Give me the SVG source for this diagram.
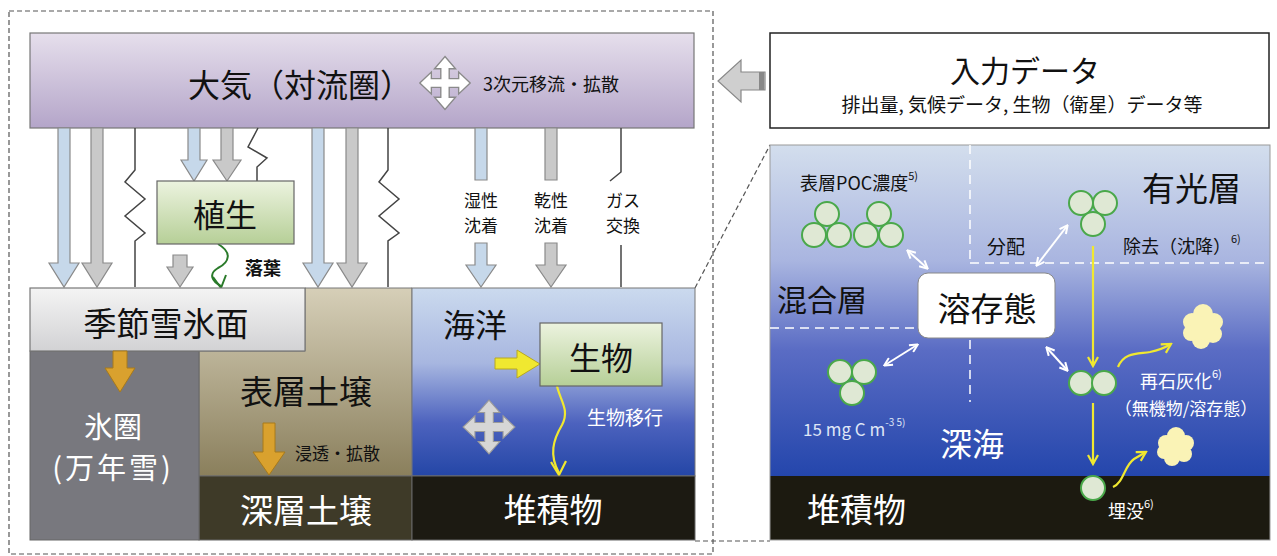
<svg xmlns="http://www.w3.org/2000/svg" width="1277" height="556" viewBox="0 0 1277 556">
<style>
text{font-family:"Noto Sans CJK JP","Noto Sans",sans-serif;dominant-baseline:central}
.blue{fill:#c6d8ea;stroke:#8a8a8a;stroke-width:1.2}
.gray{fill:#c9c9c9;stroke:#8a8a8a;stroke-width:1.2}
.orange{fill:#d9a12e;stroke:#a87a1a;stroke-width:1}
.zig{fill:none;stroke:#444;stroke-width:1.5}
.dash{fill:none;stroke:#555;stroke-width:1.2;stroke-dasharray:5 3}
.wdash{fill:none;stroke:#fff;stroke-width:1.5;stroke-dasharray:9 6}
.warr{fill:none;stroke:#fff;stroke-width:2;marker-start:url(#wh);marker-end:url(#wh)}
.yline{fill:none;stroke:#f0e830;stroke-width:2.2;marker-end:url(#yh)}
.circ{fill:#dfe8d4;stroke:#4aa84a;stroke-width:2}
.cloud{fill:#faf3b6}
.big{font-size:32px}
.w{fill:#fff}
.k{fill:#111}
</style>
<defs>
<linearGradient id="gAtm" x1="0" y1="0" x2="0" y2="1"><stop offset="0" stop-color="#e6dfec"/><stop offset="1" stop-color="#b4a5c9"/></linearGradient>
<linearGradient id="gGreen" x1="0" y1="0" x2="0" y2="1"><stop offset="0" stop-color="#ecf3df"/><stop offset="1" stop-color="#b6cf97"/></linearGradient>
<linearGradient id="gSnow" x1="0" y1="0" x2="0" y2="1"><stop offset="0" stop-color="#f4f4f4"/><stop offset="1" stop-color="#d2d2d4"/></linearGradient>
<linearGradient id="gSoil" x1="0" y1="0" x2="0" y2="1"><stop offset="0" stop-color="#d6cfb8"/><stop offset="1" stop-color="#8a7f5c"/></linearGradient>
<linearGradient id="gOcean" x1="0" y1="0" x2="0" y2="1"><stop offset="0" stop-color="#cbdaee"/><stop offset="0.4" stop-color="#a7b6e0"/><stop offset="0.72" stop-color="#4c62be"/><stop offset="1" stop-color="#2446a6"/></linearGradient>
<linearGradient id="gPanel" x1="0" y1="0" x2="0" y2="1"><stop offset="0" stop-color="#d3deed"/><stop offset="0.35" stop-color="#a9b5e0"/><stop offset="0.62" stop-color="#5a6cc4"/><stop offset="1" stop-color="#2446ac"/></linearGradient>
<marker id="wh" viewBox="0 0 10 10" refX="8" refY="5" markerWidth="10" markerHeight="10" markerUnits="userSpaceOnUse" orient="auto-start-reverse"><path d="M1,1 L9,5 L1,9" fill="none" stroke="#fff" stroke-width="2"/></marker>
<marker id="yh" viewBox="0 0 12 12" refX="10" refY="6" markerWidth="12" markerHeight="12" markerUnits="userSpaceOnUse" orient="auto"><path d="M1,1 L10,6 L1,11" fill="none" stroke="#f0e830" stroke-width="2.2"/></marker>
<path id="cross" d="M0,-24 L10,-13 L4,-13 L4,-4 L13,-4 L13,-10 L24,0 L13,10 L13,4 L4,4 L4,13 L10,13 L0,24 L-10,13 L-4,13 L-4,4 L-13,4 L-13,10 L-24,0 L-13,-10 L-13,-4 L-4,-4 L-4,-13 L-10,-13 Z"/>
</defs>

<rect width="1277" height="556" fill="#fff"/>

<!-- outer dashed frame -->
<rect class="dash" x="9" y="11" width="704" height="543"/>

<g id="atmosphere">
<rect x="30" y="33" width="664" height="95" fill="url(#gAtm)" stroke="#777" stroke-width="1.2"/>
<text x="300" y="83" class="big k" text-anchor="middle">大気（対流圏）</text>
<use href="#cross" transform="translate(445,83) scale(1.05,1.1)" fill="#fff" stroke="#8a8a8a" stroke-width="1.3"/>
<text x="483" y="83" font-size="18" class="k">3次元移流・拡散</text>
</g>

<g id="input-data">
<path d="M765,72 H741 V60 L718,81 L741,102 V90 H765 Z" fill="#cfcfcf" stroke="#888" stroke-width="1.2"/>
<rect x="759" y="72" width="5" height="18" fill="#888"/>
<rect x="770" y="33" width="499" height="95" fill="#fff" stroke="#222" stroke-width="1.5"/>
<text x="1025" y="69" font-size="30" text-anchor="middle" class="k">入力データ</text>
<text x="1022" y="103" font-size="19" text-anchor="middle" class="k">排出量, 気候データ, 生物（衛星）データ等</text>
</g>

<g id="connectors">
<path class="blue" d="M58,128 V263 H49 L64,287 L79,263 H70 V128 Z"/>
<path class="gray" d="M91,128 V263 H82 L97,287 L112,263 H103 V128 Z"/>
<path class="zig" d="M135,128 V170 L125,182 L145,199 L125,216 L145,233 L135,241 V287"/>
<path class="blue" d="M188,128 V160 H181 L194,181 L207,160 H200 V128 Z"/>
<path class="gray" d="M221,128 V160 H213 L227,181 L241,160 H233 V128 Z"/>
<path class="zig" d="M258,128 L248,147 L267,158 L257,167 V181"/>
<path class="gray" d="M173,255 V267 H167 L180,287 L193,267 H187 V255 Z"/>
<path d="M218,244 C232,252 230,262 218,268 C208,274 212,281 221,286" fill="none" stroke="#2a7a2a" stroke-width="2"/>
<path d="M213,277 L221,288 L226,275" fill="none" stroke="#2a7a2a" stroke-width="2"/>
<text x="245" y="267" font-size="18" font-weight="bold" class="k">落葉</text>
<path class="blue" d="M312,128 V263 H303 L318,287 L333,263 H324 V128 Z"/>
<path class="gray" d="M346,128 V263 H337 L352,287 L367,263 H358 V128 Z"/>
<path class="zig" d="M388,128 V170 L379,182 L399,199 L379,216 L399,233 L388,241 V287"/>
<path class="blue" d="M475,128 V180 H487 V128 Z"/>
<path class="blue" d="M475,243 V265 H466 L481,287 L496,265 H487 V243 Z"/>
<text x="481" y="199" font-size="17" text-anchor="middle" class="k">湿性</text>
<text x="481" y="224" font-size="17" text-anchor="middle" class="k">沈着</text>
<path class="gray" d="M545,128 V180 H557 V128 Z"/>
<path class="gray" d="M545,243 V265 H536 L551,287 L566,265 H557 V243 Z"/>
<text x="551" y="199" font-size="17" text-anchor="middle" class="k">乾性</text>
<text x="551" y="224" font-size="17" text-anchor="middle" class="k">沈着</text>
<path class="zig" d="M621,128 V172 L610,181"/>
<path class="zig" d="M621,245 V287"/>
<text x="623" y="199" font-size="17" text-anchor="middle" class="k">ガス</text>
<text x="623" y="224" font-size="17" text-anchor="middle" class="k">交換</text>
<!-- zoom lines -->
<path class="dash" d="M695,288 L770,145"/>
<path class="dash" d="M695,541 L770,541"/>
</g>

<g id="vegetation">
<rect x="157" y="181" width="137" height="63" fill="url(#gGreen)" stroke="#666" stroke-width="1.2"/>
<text x="225" y="213" class="big k" text-anchor="middle">植生</text>
</g>

<g id="surface-soil">
<path d="M199,351 H305 V288 H412 V476 H199 Z" fill="url(#gSoil)" stroke="#777" stroke-width="1"/>
<text x="306" y="390" font-size="33" text-anchor="middle" class="k">表層土壌</text>
<path class="orange" d="M263,423 V452 H253 L269,475 L285,452 H275 V423 Z"/>
<text x="295" y="452" font-size="17" class="k">浸透・拡散</text>
</g>

<g id="deep-soil">
<rect x="199" y="476" width="213" height="64" fill="#3e3a28" stroke="#666" stroke-width="1"/>
<text x="306" y="509" font-size="33" text-anchor="middle" class="w">深層土壌</text>
</g>

<g id="cryosphere">
<rect x="30" y="351" width="169" height="189" fill="#78787e" stroke="#666" stroke-width="1"/>
<text x="113" y="425" font-size="29" text-anchor="middle" class="w">氷圏</text>
<text x="113" y="466" font-size="29" text-anchor="middle" letter-spacing="3" class="w">(万年雪)</text>
</g>

<g id="snow-surface">
<rect x="30" y="288" width="275" height="63" fill="url(#gSnow)" stroke="#777" stroke-width="1.2"/>
<text x="166" y="322" font-size="33" text-anchor="middle" class="k">季節雪氷面</text>
<path class="orange" d="M113,351 V368 H105 L120,392 L135,368 H127 V351 Z"/>
</g>

<g id="ocean">
<rect x="412" y="288" width="283" height="188" fill="url(#gOcean)" stroke="#777" stroke-width="1"/>
<text x="443" y="323" font-size="32" class="k">海洋</text>
<path d="M495,358 H517 V350 L540,364 L517,378 V369 H495 Z" fill="#f0e830" stroke="#b8a820" stroke-width="1"/>
<use href="#cross" transform="translate(489,427) scale(1.08,1.12)" fill="#d6d6d6" stroke="#9a9a9a" stroke-width="1"/>
<path d="M557,386 C560,400 570,410 562,425 C553,440 549,455 559,473" fill="none" stroke="#f0e830" stroke-width="2.2"/>
<path d="M551,462 L559,475 L566,461" fill="none" stroke="#f0e830" stroke-width="2.2"/>
<text x="587" y="416" font-size="19" class="w">生物移行</text>
</g>

<g id="organism">
<rect x="540" y="323" width="122" height="63" fill="url(#gGreen)" stroke="#666" stroke-width="1.2"/>
<text x="601" y="356" class="big k" text-anchor="middle">生物</text>
</g>

<g id="ocean-sediment">
<rect x="412" y="476" width="283" height="64" fill="#1c1a12" stroke="#666" stroke-width="1"/>
<text x="553" y="508" font-size="33" text-anchor="middle" class="w">堆積物</text>
</g>

<g id="ocean-detail">
<rect x="770" y="145" width="500" height="331" fill="url(#gPanel)"/>
<rect x="770" y="476" width="500" height="64" fill="#1c1a10"/>
<rect x="770" y="145" width="500" height="395" fill="none" stroke="#999" stroke-width="1"/>
<path class="wdash" d="M970,145 V263 M970,263 H1270 M770,328 H917 M970,340 V402"/>

<text x="800" y="182" font-size="18" class="k">表層POC濃度<tspan font-size="11" dy="-7">5)</tspan></text>
<circle class="circ" cx="827" cy="214" r="12"/>
<circle class="circ" cx="814" cy="235" r="12"/>
<circle class="circ" cx="839" cy="235" r="12"/>
<circle class="circ" cx="879" cy="214" r="12"/>
<circle class="circ" cx="866" cy="235" r="12"/>
<circle class="circ" cx="891" cy="235" r="12"/>

<circle class="circ" cx="1081" cy="203" r="12"/>
<circle class="circ" cx="1105" cy="203" r="12"/>
<circle class="circ" cx="1093" cy="224" r="12"/>
<text x="1142" y="187" font-size="33" class="k">有光層</text>
<text x="987" y="245" font-size="19" class="k">分配</text>
<text x="1123" y="245" font-size="18" class="k">除去（沈降）<tspan font-size="11" dy="-7">6)</tspan></text>
<text x="777" y="298" font-size="30" class="k">混合層</text>

<rect x="918" y="273" width="137" height="65" rx="10" fill="#fff" stroke="#888" stroke-width="1"/>
<text x="987" y="307" font-size="33" text-anchor="middle" class="k">溶存態</text>

<path class="warr" d="M908,251 L927,268"/>
<path class="warr" d="M1037,265 L1067,226"/>
<path class="warr" d="M885,365 L917,345"/>
<path class="warr" d="M1047,348 L1067,370"/>

<circle class="circ" cx="840" cy="372" r="12"/>
<circle class="circ" cx="864" cy="372" r="12"/>
<circle class="circ" cx="852" cy="393" r="12"/>
<text x="803" y="428" font-size="17" fill="#dfe6f6" font-family="'Open Sans','Noto Sans',sans-serif">15 mg C m<tspan font-size="10" dy="-7">-3 5)</tspan></text>
<text x="940" y="442" font-size="32" class="w">深海</text>

<path class="yline" d="M1093,246 V366"/>
<circle class="circ" cx="1081" cy="383" r="12"/>
<circle class="circ" cx="1104" cy="383" r="12"/>
<path class="yline" d="M1093,403 V464"/>
<circle class="circ" cx="1093" cy="488" r="12"/>

<path class="yline" d="M1118,367 C1124,352 1138,354 1150,352 C1160,350 1166,347 1171,344"/>
<g class="cloud">
<circle cx="1192" cy="322" r="9"/><circle cx="1203" cy="314" r="10"/><circle cx="1214" cy="322" r="9"/>
<circle cx="1213" cy="334" r="9"/><circle cx="1201" cy="340" r="9"/><circle cx="1191" cy="333" r="8"/>
<circle cx="1203" cy="328" r="12"/>
</g>
<text x="1140" y="380" font-size="18" class="w">再石灰化<tspan font-size="11" dy="-7">6)</tspan></text>
<text x="1186" y="407" font-size="17" text-anchor="middle" class="w">（無機物/溶存態）</text>

<path class="yline" d="M1113,487 C1124,482 1124,466 1134,459 L1146,452"/>
<g class="cloud">
<circle cx="1166" cy="443" r="8"/><circle cx="1176" cy="436" r="9"/><circle cx="1186" cy="443" r="8"/>
<circle cx="1184" cy="454" r="8"/><circle cx="1172" cy="458" r="8"/><circle cx="1164" cy="452" r="7"/>
<circle cx="1175" cy="447" r="10"/>
</g>
<text x="1108" y="510" font-size="18" class="w">埋没<tspan font-size="11" dy="-7">6)</tspan></text>
<text x="807" y="508" font-size="33" class="w">堆積物</text>
</g>
</svg>
